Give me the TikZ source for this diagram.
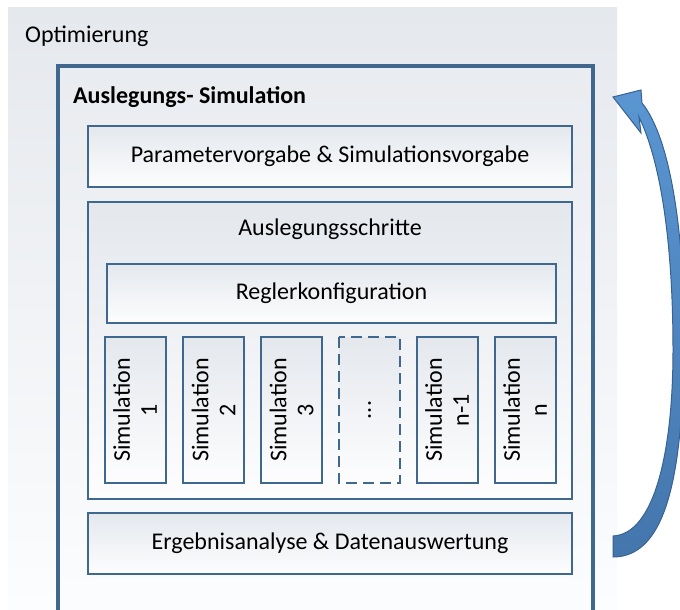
\documentclass[tikz,border=0pt]{standalone}
\usepackage{fontspec}
\setmainfont{Carlito}
\definecolor{bordc}{RGB}{64,104,143}
\definecolor{bgtop}{RGB}{229,232,237}
\definecolor{bgbot}{RGB}{252,253,254}
\definecolor{boxtop}{RGB}{228,232,237}
\definecolor{boxbot}{RGB}{253,253,254}
\definecolor{arrtop}{RGB}{90,150,210}
\definecolor{arrbot}{RGB}{68,118,172}
\definecolor{arrdraw}{RGB}{58,98,145}
\tikzset{
  txt/.style={font=\fontsize{24}{27}\selectfont, text=black, inner sep=0pt},
  box/.style={draw=bordc, line width=2pt, top color=boxtop, bottom color=boxbot,
    minimum width=484pt, minimum height=61pt, inner sep=0pt, txt},
  simbox/.style={box, rotate=90, minimum width=146pt, minimum height=61pt, align=center},
}
\begin{document}
\begin{tikzpicture}[x=1pt,y=-1pt]
\useasboundingbox (0,0) rectangle (680,610);
% Optimierung background
\shade[top color=bgtop, bottom color=bgbot] (8,8) rectangle (617,612);
\node[txt, anchor=base west] (opt) at (25,43) {Optimierung};
% Auslegungs-Simulation
\draw[draw=bordc, line width=3.5pt, top color=bgtop!85!white, bottom color=bgbot] (58,66) rectangle (593,625);
\node[txt, anchor=base west, font=\fontsize{24}{27}\selectfont\bfseries] (aus) at (73,103) {Auslegungs- Simulation};
% boxes
\node[box] (param) at (330,156.5) {Parametervorgabe \& Simulationsvorgabe};
\node[box, minimum height=297pt] (steps) at (330,350.5) {};
\node[txt] (stepslbl) at (330,229) {Auslegungsschritte};
\node[box, minimum width=449pt, minimum height=59pt] (regler) at (331.5,293.5) {Reglerkonfiguration};
\node[simbox] (s1) at (135,410) {Simulation\\1};
\node[simbox] (s2) at (213.5,410) {Simulation\\2};
\node[simbox] (s3) at (291.5,410) {Simulation\\3};
\node[simbox, dash pattern=on 11pt off 6pt] (sd) at (369.5,410) {...};
\node[simbox] (s4) at (447,410) {Simulation\\n-1};
\node[simbox] (s5) at (525,410) {Simulation\\n};
\node[box] (erg) at (330,543.5) {Ergebnisanalyse \& Datenauswertung};
% curved arrow
\shadedraw[top color=arrtop, bottom color=arrbot, draw=arrdraw, line width=1pt, line join=miter]
  (613,97) -- (641,90) -- (642,103)
  .. controls (672,140) and (684,240) .. (684,330)
  .. controls (684,470) and (668,557) .. (613,557)
  -- (613,536)
  .. controls (655,534) and (673,450) .. (673,350)
  .. controls (673,240) and (660,160) .. (639,117)
  -- (641,133) -- cycle;
\end{tikzpicture}
\end{document}
